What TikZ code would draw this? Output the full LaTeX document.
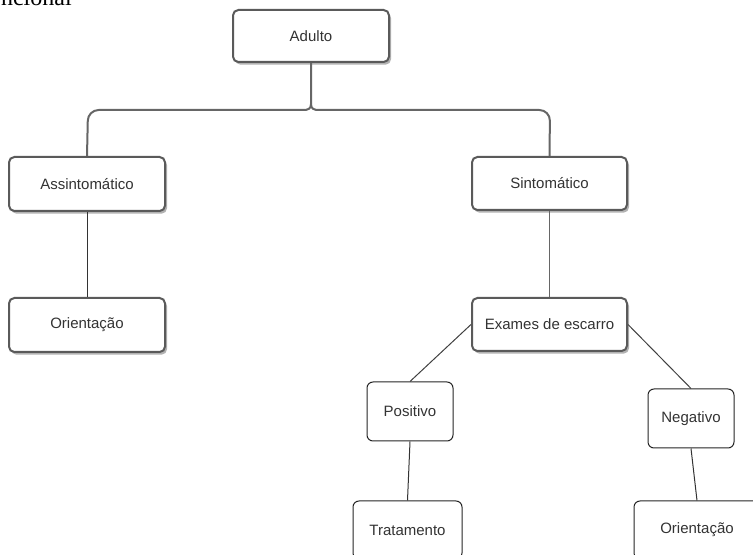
\documentclass[tikz,border=0pt]{standalone}
\usepackage{fontspec}
\setmainfont{Liberation Sans}
\newfontfamily\serifx{Liberation Serif}
\usetikzlibrary{shadows}
\definecolor{txt}{HTML}{333333}
\definecolor{bigline}{HTML}{5A5A5A}
\definecolor{conn}{HTML}{666666}
\begin{document}
\begin{tikzpicture}[x=0.75pt,y=-0.75pt,
  bigbox/.style={draw=bigline, line width=1.5pt, rounded corners=4pt, fill=white,
    drop shadow={shadow xshift=1.5pt, shadow yshift=-2pt, opacity=0.3, fill=black},
    text=txt, font=\fontsize{11.25}{13.5}\selectfont, inner sep=0pt},
  smallbox/.style={draw=black!85, line width=0.75pt, rounded corners=4.5pt, fill=white,
    text=txt, font=\fontsize{11.25}{13.5}\selectfont, inner sep=0pt},
  thick conn/.style={draw=conn, line width=1.5pt},
  thin conn/.style={draw=black!80, line width=0.75pt}]
\useasboundingbox (0,0) rectangle (753,555);
\clip (0,0) rectangle (753,555);

% partially visible heading at top left (cut by the top edge, as in the reference)
\node[anchor=base east, inner sep=0pt, font=\serifx\fontsize{18}{20}\selectfont] (head) at (72,5.5) {ncional};

% branch points of the brace below Adulto
\coordinate (jl) at (88,110);
\coordinate (jr) at (550,110);

% nodes
\node[bigbox, minimum width=156*0.75pt, minimum height=52*0.75pt] (adulto) at (311,36) {Adulto};
\node[bigbox, minimum width=156*0.75pt, minimum height=54*0.75pt] (assint) at (87,184) {Assintomático};
\node[bigbox, minimum width=156*0.75pt, minimum height=54*0.75pt] (orientl) at (87,325) {Orientação};
\node[bigbox, minimum width=155*0.75pt, minimum height=53*0.75pt] (sint) at (549.5,183.5) {Sintomático};
\node[bigbox, minimum width=155*0.75pt, minimum height=53*0.75pt] (exames) at (549.5,324.5) {Exames de escarro};
\node[smallbox, minimum width=86*0.75pt, minimum height=59*0.75pt] (positivo) at (410,411.5) {Positivo};
\node[smallbox, minimum width=86*0.75pt, minimum height=59*0.75pt] (negativo) at (691,418.5) {Negativo};
\node[smallbox, minimum width=109*0.75pt, minimum height=58*0.75pt] (tratamento) at (407.5,530) {Tratamento};
\node[smallbox, minimum width=126*0.75pt, minimum height=58*0.75pt] (orientr) at (697,530) {Orientação};

% brace from Adulto
\path[thick conn] (adulto.south) -- ++(0,41) coordinate (jc)
  .. controls ++(0,5) and (308,110) .. (303,110)
  [rounded corners=8pt] -- (jl) -- (assint.north);
\path[thick conn] (jc)
  .. controls ++(0,5) and (314,110) .. (319,110)
  [rounded corners=8pt] -- (jr) -- (sint.north);

% other connectors
\draw[thin conn] (assint.south) -- (orientl.north);
\draw[draw=conn, line width=1.1pt] (sint.south) -- (exames.north);
\draw[draw=black!75, line width=0.75pt] (exames.west) -- (positivo.north);
\draw[draw=black!75, line width=0.75pt] (exames.east) -- (negativo.north);
\draw[thin conn] (positivo.south) -- (tratamento.north);
\draw[thin conn] (negativo.south) -- (orientr.north);
\end{tikzpicture}
\end{document}
